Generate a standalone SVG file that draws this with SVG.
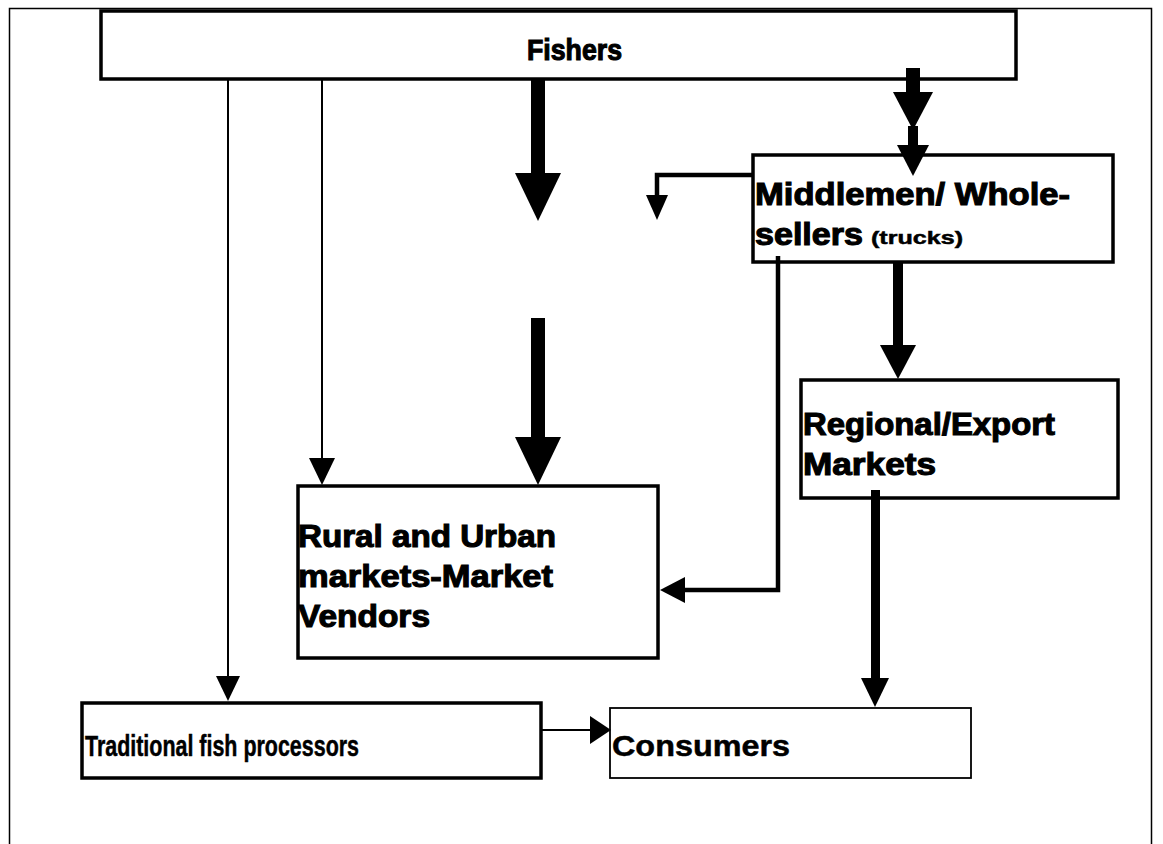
<svg xmlns="http://www.w3.org/2000/svg" width="1163" height="844" viewBox="0 0 1163 844">
<style>
.frame{fill:none;stroke:#000;stroke-width:1.5}
.box{fill:#fff;stroke:#000;stroke-width:3.5}
.thinbox{fill:#fff;stroke:#000;stroke-width:1.8}
.lbl{font-family:"Liberation Sans",Arial,sans-serif;font-weight:bold;font-size:31px;fill:#000;stroke:#000;stroke-width:1.1}
.fz{font-size:30px}
.small{font-size:19px;stroke-width:0.5}
.narrow{font-size:30px;stroke-width:0.5}
.thin{fill:none;stroke:#000;stroke-width:2}
.med{fill:none;stroke:#000;stroke-width:4.5}
.head{fill:#000;stroke:none}
</style>
<rect width="1163" height="844" fill="#fff"/>
<path class="frame" d="M9.5,844 V8.5 H1151.5 V844"/>
<g id="fishers">
<rect class="box" x="101" y="11" width="915" height="68"/>
<text class="lbl fz" x="527" y="60" textLength="95" lengthAdjust="spacingAndGlyphs">Fishers</text>
</g>
<g id="middlemen">
<rect class="box" x="753" y="155" width="360" height="107"/>
<text class="lbl" x="755" y="205" textLength="315" lengthAdjust="spacingAndGlyphs">Middlemen/ Whole-</text>
<text class="lbl" x="755" y="245" textLength="108" lengthAdjust="spacingAndGlyphs">sellers</text>
<text class="lbl small" x="871" y="244" textLength="92" lengthAdjust="spacingAndGlyphs">(trucks)</text>
</g>
<g id="regional">
<rect class="box" x="801" y="380" width="317" height="118"/>
<text class="lbl" x="803" y="435" textLength="252" lengthAdjust="spacingAndGlyphs">Regional/Export</text>
<text class="lbl" x="803" y="475" textLength="133" lengthAdjust="spacingAndGlyphs">Markets</text>
</g>
<g id="rural">
<rect class="box" x="298" y="486" width="360" height="172"/>
<text class="lbl" x="298" y="547" textLength="258" lengthAdjust="spacingAndGlyphs">Rural and Urban</text>
<text class="lbl" x="298" y="587" textLength="255" lengthAdjust="spacingAndGlyphs">markets-Market</text>
<text class="lbl" x="298" y="627" textLength="132" lengthAdjust="spacingAndGlyphs">Vendors</text>
</g>
<g id="traditional">
<rect class="box" x="82" y="703" width="459" height="75"/>
<text class="lbl narrow" x="85" y="756" textLength="274" lengthAdjust="spacingAndGlyphs">Traditional fish processors</text>
</g>
<g id="consumers">
<rect class="thinbox" x="610" y="708" width="361" height="70"/>
<text class="lbl narrow" x="612" y="756" textLength="178" lengthAdjust="spacingAndGlyphs">Consumers</text>
</g>
<g id="connectors">
<line class="thin" x1="228" y1="79" x2="228" y2="678"/>
<polygon class="head" points="216,676 240,676 228,701"/>
<line class="thin" x1="322" y1="79" x2="322" y2="460"/>
<polygon class="head" points="309,458 335,458 322,485"/>
<rect class="head" x="531" y="78" width="14" height="96"/>
<polygon class="head" points="515,173 561,173 538,221"/>
<rect class="head" x="531" y="318" width="14" height="120"/>
<polygon class="head" points="515,437 561,437 538,485"/>
<rect class="head" x="906" y="68" width="14" height="26"/>
<polygon class="head" points="893,92 933,92 913,130"/>
<rect class="head" x="908" y="126" width="10" height="20"/>
<polygon class="head" points="897,145 929,145 913,176"/>
<path class="med" d="M753,175 H657 V198"/>
<polygon class="head" points="646,195 668,195 657,220"/>
<path class="med" d="M778,256 V590 H682"/>
<polygon class="head" points="685,577 685,603 660,590"/>
<rect class="head" x="893" y="262" width="10" height="86"/>
<polygon class="head" points="880,345 916,345 898,379"/>
<rect class="head" x="871" y="490" width="9" height="190"/>
<polygon class="head" points="861,678 889,678 875,707"/>
<line class="thin" x1="541" y1="730" x2="592" y2="730"/>
<polygon class="head" points="590,716 590,744 611,730"/>
</g>
</svg>
